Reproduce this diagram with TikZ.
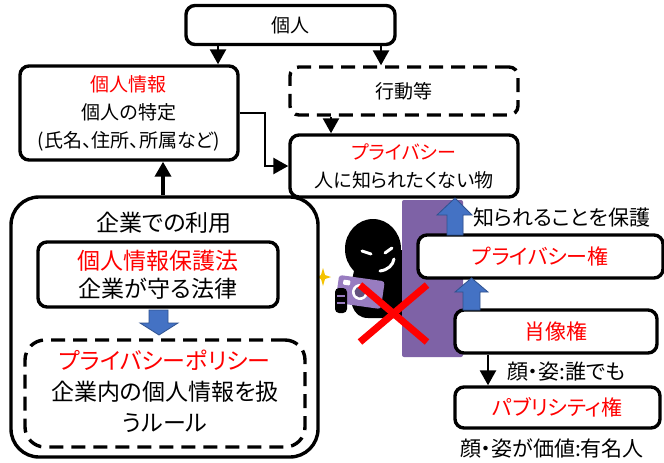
\documentclass[tikz,border=0pt]{standalone}
\usepackage{fontspec}
\setmainfont{Noto Sans CJK JP}[RawFeature=+palt]
\usetikzlibrary{arrows.meta}

\definecolor{arrowblue}{RGB}{68,114,196}
\definecolor{arrowedge}{RGB}{47,82,143}
\definecolor{wallpurple}{RGB}{126,98,166}
\definecolor{camerapurple}{RGB}{152,124,192}
\definecolor{flashyellow}{RGB}{245,195,0}

\begin{document}
\begin{tikzpicture}[x=1pt,y=1pt,
  box/.style={draw=black, line width=3.4pt, rounded corners=9pt, fill=white,
              align=center, inner sep=0pt},
  dbox/.style={box, dash pattern=on 14pt off 8pt},
  topfont/.style={font=\fontsize{19}{28}\selectfont},
  lowfont/.style={font=\fontsize{23}{28}\selectfont},
  sidefont/.style={font=\fontsize{21}{26}\selectfont},
  arr/.style={line width=2.6pt, -{Triangle[length=15pt,width=16pt]}},
  blockarrow/.style={fill=arrowblue, draw=arrowedge, line width=0.8pt, line join=miter}
]
\useasboundingbox (0,0) rectangle (664,-463);
\fill[white] (0,0) rectangle (664,-463);

% figure peeking out from behind the wall
\fill[black] (373,-249) ellipse [x radius=28, y radius=30];
\fill[black] (356,-262) -- (402,-250) -- (402,-318) -- (368,-318)
  .. controls (352,-318) and (348,-300) .. (352,-280) -- cycle;
\draw[white, line width=3pt, line cap=round] (362,-251) -- (371,-254);
\draw[white, line width=3pt, line cap=round] (385,-253) -- (392,-248);
\draw[white, line width=3pt, line cap=round] (380,-271) .. controls (388,-270) and (393,-265) .. (394,-259);
% camera
\begin{scope}[rotate around={-8:(360,-292)}]
  \fill[camerapurple, rounded corners=3pt] (337,-278) rectangle (383,-306);
  \fill[white] (360,-292) circle [radius=8];
  \fill[camerapurple!65!black] (360,-292) circle [radius=5.5];
  \fill[white, rounded corners=1pt] (342,-282) rectangle (349,-287);
\end{scope}
\fill[black, rounded corners=4pt] (335,-288) rectangle (347,-313);
\draw[camerapurple, line width=1.2pt] (337,-296) -- (345,-296) (337,-303) -- (345,-303);
% flash
\fill[flashyellow] (323,-268) -- (325,-275) -- (331,-277) -- (325,-279) -- (323,-286)
  -- (321,-279) -- (317,-277) -- (321,-275) -- cycle;
% wall
\fill[wallpurple, rounded corners=2pt] (402,-200) rectangle (463,-357);

% top level
\node[box, topfont, minimum width=209pt, minimum height=39pt] (kojin) at (290.5,-25) {個人};
\node[box, topfont, minimum width=218pt, minimum height=94pt] (joho) at (129,-113)
  {{\color{red}個人情報}\\個人の特定\\(氏名、住所、所属など)};
\node[dbox, topfont, minimum width=228pt, minimum height=48pt] (kodo) at (404,-91) {行動等};
\node[box, topfont, minimum width=228pt, minimum height=62pt] (priv) at (404,-166)
  {{\color{red}プライバシー}\\人に知られたくない物};

% company side
\node[box, rounded corners=28pt, minimum width=307pt, minimum height=260pt] (kigyo) at (164.5,-327) {};
\node[lowfont] (kigyotitle) at (164,-223) {企業での利用};
\node[box, lowfont, minimum width=240pt, minimum height=65pt] (hogo) at (158,-274.5)
  {{\color{red}個人情報保護法}\\企業が守る法律};
\node[dbox, rounded corners=20pt, minimum width=280pt, minimum height=107pt] (policy) at (165,-393.5)
  {};
\node[font=\fontsize{23}{31}\selectfont, align=center] (policytext) at (165,-391)
  {{\color{red}プライバシーポリシー}\\企業内の個人情報を扱\\うルール};

% rights
\node[box, sidefont, minimum width=245pt, minimum height=43pt] (privright) at (540.5,-256.5)
  {{\color{red}プライバシー権}};
\node[box, sidefont, minimum width=202pt, minimum height=43pt] (shozo) at (556,-331.5)
  {{\color{red}肖像権}};
\node[box, sidefont, minimum width=205pt, minimum height=41pt] (publicity) at (557.5,-407.5)
  {{\color{red}パブリシティ権}};
\node[sidefont, anchor=west, inner sep=0pt] (protect) at (473,-218) {知られることを保護};
\node[sidefont, anchor=west, inner sep=0pt] (anyone) at (507,-372) {顔・姿:誰でも};
\node[sidefont, inner sep=0pt] (famous) at (552,-448) {顔・姿が価値:有名人};

% connectors
\draw[arr] (218,0 |- kojin.south) -- (218,0 |- joho.north);
\draw[arr] (381,0 |- kojin.south) -- (381,0 |- kodo.north);
\draw[arr] (331,0 |- kodo.south) -- (331,0 |- priv.north);
\draw[arr] (joho.east) -- (265,-113) |- (priv.west);
\draw[arr, line width=3.6pt] (163,0 |- kigyo.north) -- (163,0 |- joho.south);
\draw[arr] (488,0 |- shozo.south) -- (488,0 |- publicity.north);

% block arrows
\draw[blockarrow] (455,-198) -- (472,-215) -- (463,-215) -- (463,-235) -- (447,-235)
  -- (447,-215) -- (437,-215) -- cycle;
\draw[blockarrow] (471.5,-278) -- (488,-292) -- (480,-292) -- (480,-310) -- (463,-310)
  -- (463,-292) -- (455,-292) -- cycle;
\draw[blockarrow] (159,-335) -- (178,-323) -- (168,-323) -- (168,-310) -- (149,-310)
  -- (149,-323) -- (140,-323) -- cycle;

% forbidden mark
\draw[red, line width=7pt] (360,-285) -- (427,-342);
\draw[red, line width=7pt] (427,-285) -- (360,-342);
\end{tikzpicture}
\end{document}
